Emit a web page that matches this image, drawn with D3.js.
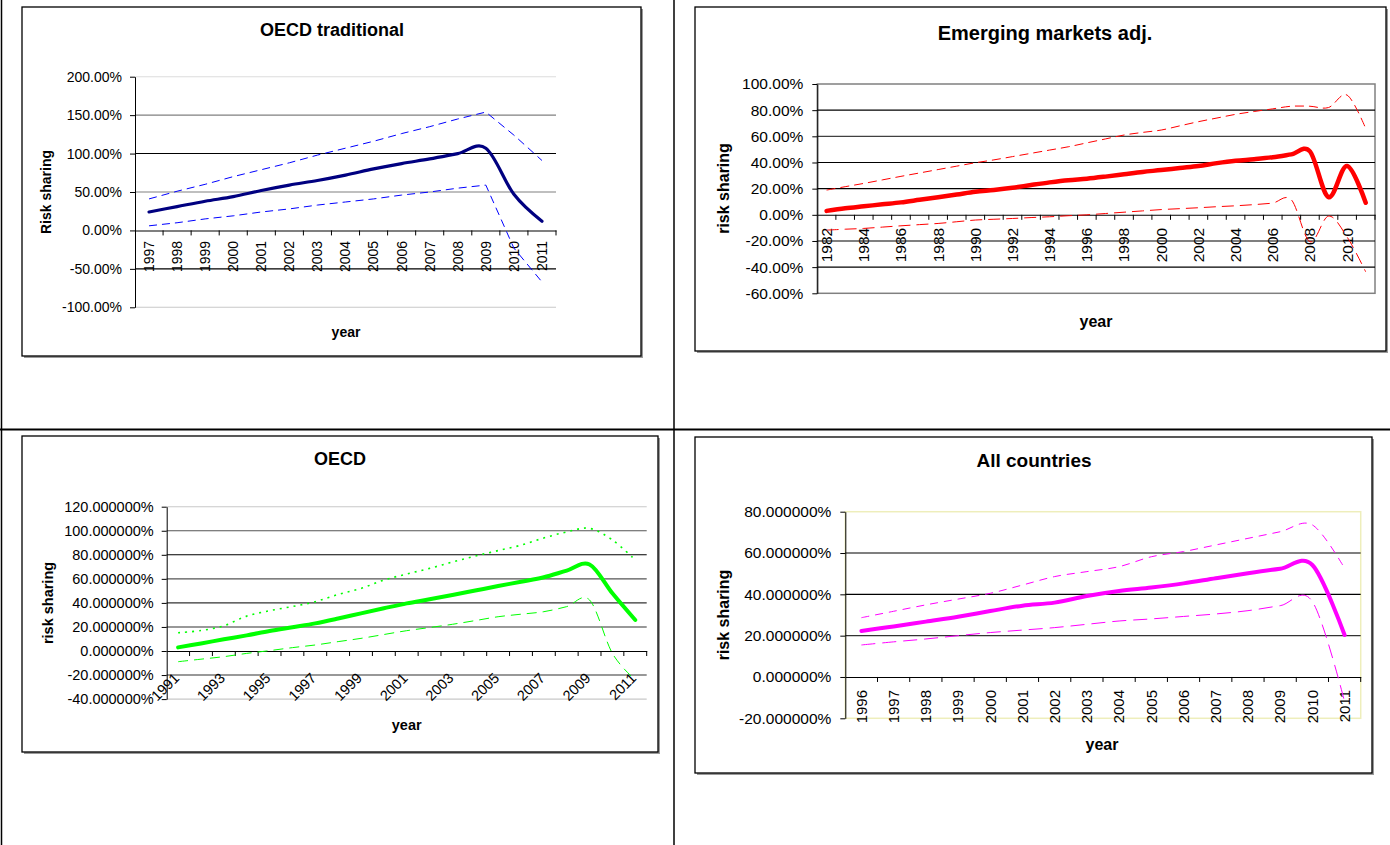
<!DOCTYPE html>
<html>
<head>
<meta charset="utf-8">
<script src="https://cdn.jsdelivr.net/npm/d3@7"></script>
<style>
  body { margin: 0; background: #fff; }
  svg { display: block; }
  text { font-family: "Liberation Sans", Arial, Helvetica, sans-serif; fill: #000; }
</style>
</head>
<body>
<svg id="page" width="1390" height="845"></svg>
<script>
// ---------- OECD traditional (percent) ----------
const oecdTradYears = ["1997","1998","1999","2000","2001","2002","2003","2004","2005","2006","2007","2008","2009","2010","2011"];
const oecdTradEstimate = [24, 31, 38, 44, 52, 59, 65, 72, 80, 87, 93, 100, 107, 47, 12];
const oecdTradUpper    = [41, 51, 60, 70, 79, 88, 98, 107, 116, 126, 135, 145, 154, 124, 91];
const oecdTradLower    = [6, 10, 15, 19, 24, 28, 33, 37, 41, 46, 50, 55, 59, -23, -67];
const oecdTradTicks    = [-100, -50, 0, 50, 100, 150, 200];

// ---------- Emerging markets adj. (percent) ----------
const emYears = ["1982","1983","1984","1985","1986","1987","1988","1989","1990","1991",
                 "1992","1993","1994","1995","1996","1997","1998","1999","2000","2001",
                 "2002","2003","2004","2005","2006","2007","2008","2009","2010","2011"];
const emEstimate = [3, 5, 6.5, 8, 9.5, 11.5, 13.5, 15.5, 17.6, 19, 20.7, 22.8, 24.8, 26.5, 27.6,
                    29.2, 31, 32.8, 34.2, 35.8, 37.3, 39.5, 41.3, 42.5, 44, 46.2, 48.5, 13.5, 37.3, 9.2];
const emUpper    = [18.9, 21.5, 24, 26.7, 29.4, 32, 34.6, 37.2, 39.8, 42, 44.5, 47, 49.5, 52, 55,
                    58, 61, 63, 64.8, 68, 71.2, 74, 76.8, 79, 81, 83, 83, 82, 91.5, 66];
const emLower    = [-11.7, -11, -10.4, -9.4, -8.4, -7.5, -6.6, -5.3, -4, -3.4, -2.8, -2.1, -1.5, -0.7, 0,
                    1, 2, 3, 4, 4.7, 5.4, 6.2, 6.9, 7.8, 9, 11.5, -20.6, -1, -17, -43.6];
const emTicks    = [-60, -40, -20, 0, 20, 40, 60, 80, 100];

// ---------- OECD (percent) ----------
const oecdYears = ["1991","1992","1993","1994","1995","1996","1997","1998","1999","2000","2001",
                   "2002","2003","2004","2005","2006","2007","2008","2009","2010","2011"];
const oecdEstimate = [3, 6.3, 9.7, 13, 16.6, 19.8, 23, 27, 31.3, 35.5, 39.6,
                      43, 46.6, 50.3, 54, 57.6, 61.3, 66.8, 72, 48, 25.8];
const oecdUpper    = [15.2, 17, 21, 29, 33.5, 37, 41, 47, 52, 59, 64,
                      68.7, 74, 79, 83.5, 88, 94, 99, 102, 92.3, 75.7];
const oecdLower    = [-8.9, -6.8, -4.7, -2, 0.3, 2.8, 5, 7.8, 10.5, 13.7, 16.9,
                      19.5, 22.2, 25.3, 28.5, 30.6, 32.7, 36.9, 42.4, -2, -24];
const oecdTicks    = [-40, -20, 0, 20, 40, 60, 80, 100, 120];

// ---------- All countries (percent) ----------
const allYears = ["1996","1997","1998","1999","2000","2001","2002","2003",
                  "2004","2005","2006","2007","2008","2009","2010","2011"];
const allEstimate = [22.3, 24.4, 26.8, 29.2, 31.9, 34.5, 36, 39.2, 41.6, 43.3, 45.3, 47.8, 50.2, 52.4, 54.2, 20.3];
const allUpper    = [28.7, 31.8, 34.9, 37.7, 40.5, 44.5, 48.6, 51, 53.4, 58.2, 60.7, 63.9, 67.1, 70.3, 73.6, 52.6];
const allLower    = [15.5, 17, 18.4, 20, 21.5, 22.7, 23.9, 25.5, 27.1, 28.1, 29.3, 30.5, 32.1, 34.5, 36.5, -12];
const allTicks    = [-20, 0, 20, 40, 60, 80];

const svg = d3.select("#page");
const FONT = '"Liberation Sans", Arial, Helvetica, sans-serif';

// page table rules
svg.append("line").attr("x1", 1.5).attr("x2", 1.5).attr("y1", 0).attr("y2", 845).attr("stroke", "#000").attr("stroke-width", 1.5);
svg.append("line").attr("x1", 674).attr("x2", 674).attr("y1", 0).attr("y2", 845).attr("stroke", "#000").attr("stroke-width", 1.5);
svg.append("line").attr("x1", 0).attr("x2", 1390).attr("y1", 429.5).attr("y2", 429.5).attr("stroke", "#000").attr("stroke-width", 2.2);

const charts = [
  {
    title: "OECD traditional", yTitle: "Risk sharing",
    years: oecdTradYears, ticks: oecdTradTicks, decimals: 2,
    frame: { x0: 22, y0: 7, x1: 641, y1: 356 },
    plot: { left: 135, right: 556, top: 76.7, bottom: 307.3 },
    titlePos: [332, 36], titleSize: 18,
    yTitlePos: [46, 192], xTitlePos: [346, 337], axisTitleSize: 14,
    tickFont: 14, labelFont: 14, labelEvery: 1, labelRotate: -90, labelOffset: 10.5, tickPad: 8,
    gridColors: ["#c8c8c8", "#000", null, "#808080", "#000", "#808080", "#dcdcdc"],
    plotBorder: null,
    series: [
      { values: oecdTradUpper, color: "#0000ff", width: 1, dash: "8,5", smooth: false },
      { values: oecdTradLower, color: "#0000ff", width: 1, dash: "8,5", smooth: false },
      { values: oecdTradEstimate, color: "#000080", width: 3.2, dash: null, smooth: true }
    ]
  },
  {
    title: "Emerging markets adj.", yTitle: "risk sharing",
    years: emYears, ticks: emTicks, decimals: 2,
    frame: { x0: 695, y0: 7, x1: 1386, y1: 351 },
    plot: { left: 817.3, right: 1375, top: 84, bottom: 293.3 },
    titlePos: [1045, 40], titleSize: 20,
    yTitlePos: [723, 188.5], xTitlePos: [1096, 327], axisTitleSize: 16,
    tickFont: 15.5, labelFont: 15.5, labelEvery: 2, labelRotate: -90, labelOffset: 13, tickPad: 9,
    gridColors: [null, "#000", "#000", null, "#000", "#000", "#404040", "#000", null],
    plotBorder: "#808080",
    series: [
      { values: emUpper, color: "#ff0000", width: 1, dash: "9,5", smooth: true },
      { values: emLower, color: "#ff0000", width: 1, dash: "12,6", smooth: true },
      { values: emEstimate, color: "#ff0000", width: 4.5, dash: null, smooth: true }
    ]
  },
  {
    title: "OECD", yTitle: "risk sharing",
    years: oecdYears, ticks: oecdTicks, decimals: 6,
    frame: { x0: 22, y0: 436, x1: 658, y1: 752 },
    plot: { left: 166.7, right: 646.7, top: 506.7, bottom: 699.1 },
    titlePos: [340, 465], titleSize: 18,
    yTitlePos: [48.3, 603], xTitlePos: [406.7, 730], axisTitleSize: 14.5,
    tickFont: 14.5, labelFont: 14.5, labelEvery: 2, labelRotate: -45, labelOffset: 28, tickPad: 8,
    gridColors: ["#c8c8c8", "#333", null, "#333", "#333", "#555", "#000", "#555", "#c8c8c8"],
    plotBorder: null,
    series: [
      { values: oecdUpper, color: "#00ff00", width: 1.6, dash: "2,5", smooth: true },
      { values: oecdLower, color: "#00ff00", width: 1, dash: "10,6", smooth: true },
      { values: oecdEstimate, color: "#00ff00", width: 4, dash: null, smooth: true }
    ]
  },
  {
    title: "All countries", yTitle: "risk sharing",
    years: allYears, ticks: allTicks, decimals: 6,
    frame: { x0: 695, y0: 437, x1: 1372, y1: 773 },
    plot: { left: 845.3, right: 1360.7, top: 511.7, bottom: 718.3 },
    titlePos: [1034, 467], titleSize: 19,
    yTitlePos: [723.3, 615], xTitlePos: [1102, 750], axisTitleSize: 16,
    tickFont: 15.5, labelFont: 15, labelEvery: 1, labelRotate: -90, labelOffset: 13, tickPad: 9,
    gridColors: [null, null, "#333", "#000", "#000", null],
    plotBorder: "#eeeebb",
    series: [
      { values: allUpper, color: "#ff00ff", width: 1, dash: "8,6", smooth: true },
      { values: allLower, color: "#ff00ff", width: 1, dash: "14,7", smooth: true },
      { values: allEstimate, color: "#ff00ff", width: 4, dash: null, smooth: true }
    ]
  }
];

function drawChart(c) {
  const g = svg.append("g");
  const f = c.frame, p = c.plot;

  // chart area with a thin drop shadow
  g.append("rect").attr("x", f.x0 + 2).attr("y", f.y0 + 2).attr("width", f.x1 - f.x0).attr("height", f.y1 - f.y0)
    .attr("fill", "#9a9a9a");
  g.append("rect").attr("x", f.x0).attr("y", f.y0).attr("width", f.x1 - f.x0).attr("height", f.y1 - f.y0)
    .attr("fill", "#fff").attr("stroke", "#000").attr("stroke-width", 1.3);

  const x = d3.scaleBand().domain(c.years).range([p.left, p.right]).padding(0);
  const y = d3.scaleLinear().domain(d3.extent(c.ticks)).range([p.bottom, p.top]);

  // plot-area border
  if (c.plotBorder) {
    g.append("rect").attr("x", p.left).attr("y", p.top).attr("width", p.right - p.left).attr("height", p.bottom - p.top)
      .attr("fill", "none").attr("stroke", c.plotBorder).attr("stroke-width", 1.5);
  }

  // horizontal gridlines
  c.ticks.forEach((t, i) => {
    const col = c.gridColors[i];
    if (!col || t === 0) return;
    g.append("line").attr("x1", p.left).attr("x2", p.right).attr("y1", y(t)).attr("y2", y(t))
      .attr("stroke", col).attr("stroke-width", 1.1);
  });

  // value axis
  const yAxis = d3.axisLeft(y).tickValues(c.ticks).tickSize(5).tickSizeOuter(0).tickPadding(c.tickPad)
    .tickFormat(v => v.toFixed(c.decimals) + "%");
  const ya = g.append("g").attr("transform", `translate(${p.left},0)`).call(yAxis);
  ya.attr("font-family", FONT).attr("font-size", c.tickFont);
  ya.selectAll("line, path").attr("stroke", "#000");
  ya.selectAll("text").attr("fill", "#000");

  // category axis along zero
  const y0 = y(0);
  const xAxis = d3.axisBottom(x).tickSize(0).tickSizeOuter(0)
    .tickFormat((d, i) => (i % c.labelEvery === 0 ? d : ""));
  const xa = g.append("g").attr("transform", `translate(0,${y0})`).call(xAxis);
  xa.attr("font-family", FONT).attr("font-size", c.labelFont);
  xa.select(".domain").attr("stroke", "#000").attr("stroke-width", 1.1);
  if (c.labelRotate === -90) {
    xa.selectAll("text").attr("x", 0).attr("y", 0).attr("dy", "0.35em")
      .attr("transform", `translate(0,${c.labelOffset}) rotate(-90)`)
      .style("text-anchor", "end").attr("fill", "#000");
  } else {
    xa.selectAll("text").attr("x", 0).attr("y", 0).attr("dy", "0")
      .attr("transform", `translate(2,${c.labelOffset}) rotate(-45)`)
      .style("text-anchor", "end").attr("fill", "#000");
  }
  // tick marks between categories
  g.selectAll(null).data(c.years).enter().append("line")
    .attr("x1", d => x(d) + x.bandwidth()).attr("x2", d => x(d) + x.bandwidth())
    .attr("y1", y0).attr("y2", y0 + 5).attr("stroke", "#000").attr("stroke-width", 1);

  // series
  c.series.forEach(s => {
    const line = d3.line()
      .x((v, i) => x(c.years[i]) + x.bandwidth() / 2)
      .y(v => y(v))
      .curve(s.smooth ? d3.curveCardinal.tension(0) : d3.curveLinear);
    g.append("path").datum(s.values).attr("d", line)
      .attr("fill", "none").attr("stroke", s.color).attr("stroke-width", s.width)
      .attr("stroke-dasharray", s.dash).attr("stroke-linejoin", "round").attr("stroke-linecap", s.dash ? "butt" : "round");
  });

  // titles
  g.append("text").attr("x", c.titlePos[0]).attr("y", c.titlePos[1]).attr("text-anchor", "middle")
    .attr("font-weight", "bold").attr("font-size", c.titleSize).text(c.title);
  g.append("text").attr("transform", `translate(${c.yTitlePos[0]},${c.yTitlePos[1]}) rotate(-90)`)
    .attr("dy", "0.35em").attr("text-anchor", "middle").attr("font-weight", "bold")
    .attr("font-size", c.axisTitleSize).text(c.yTitle);
  g.append("text").attr("x", c.xTitlePos[0]).attr("y", c.xTitlePos[1]).attr("text-anchor", "middle")
    .attr("font-weight", "bold").attr("font-size", c.axisTitleSize).text("year");
}

charts.forEach(drawChart);
</script>
</body>
</html>
